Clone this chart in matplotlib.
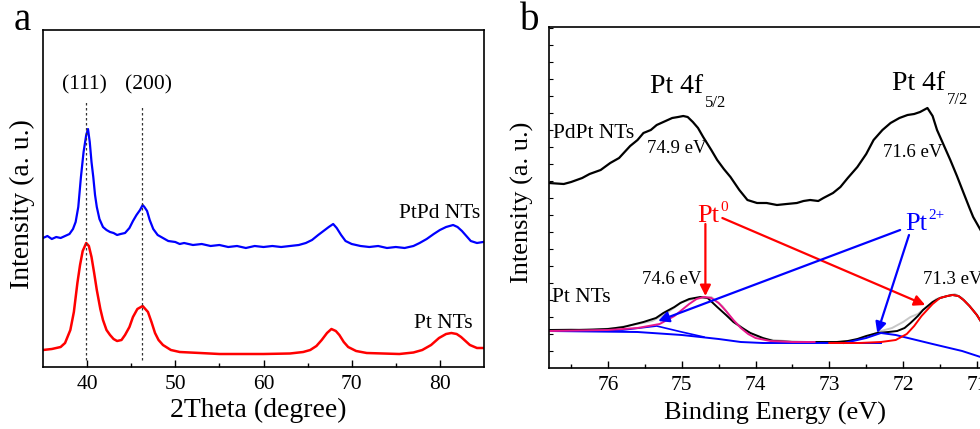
import numpy as np
import matplotlib
matplotlib.use('Agg')
import matplotlib.pyplot as plt

plt.rcParams['font.family'] = ['Liberation Serif', 'DejaVu Serif']

# ---- panel a: XRD ----
tt_ptpd = [35, 35.5, 36, 36.5, 37, 37.5, 38, 38.4, 38.7, 39.0, 39.3, 39.6, 39.9, 40.1, 40.3,
           40.5, 40.7, 40.9, 41.1, 41.4, 41.8, 42.2, 42.6, 43.0, 43.4, 43.8, 44.3, 44.8, 45.2,
           45.6, 46.0, 46.3, 46.5, 46.8, 47.1, 47.5, 48.0, 48.6, 49.2, 50, 50.5, 51, 52, 53, 54,
           55, 56, 57, 58, 59, 60, 61, 62, 63, 64, 64.8, 65.5, 66.2, 66.8, 67.4, 67.9, 68.3,
           68.8, 69.3, 70, 71, 72, 73, 74, 75, 76, 77, 77.7, 78.5, 79.3, 80.0, 80.7, 81.5, 82.0,
           82.5, 83.0, 83.5, 84.2, 84.9]
int_ptpd = [129, 131, 128, 130, 129, 131, 133, 138, 145, 160, 190, 215, 232, 238, 225,
            205, 190, 172, 160, 148, 140, 137, 135, 134, 132, 133, 134, 139, 146,
            152, 157, 162, 160, 156, 147, 138, 132, 129, 126, 125, 123, 124, 122, 123, 121,
            122, 120, 121, 119, 121, 120, 121, 120, 121, 122, 124, 127, 132, 136, 140, 143, 139,
            132, 126, 123, 121, 120, 121, 119, 120, 119, 121, 124, 128, 133, 137, 140, 142, 140,
            136, 131, 126, 124, 125]

tt_pt = [35, 36, 37, 37.5, 38.1, 38.5, 38.9, 39.2, 39.5, 39.9, 40.2, 40.5, 40.8, 41.1, 41.5,
         41.8, 42.2, 42.6, 43.0, 43.4, 43.9, 44.3, 44.8, 45.2, 45.7, 46.3, 46.9, 47.3, 47.7,
         48.1, 48.6, 49.5, 50.5, 52.8, 55, 60, 63, 64.5, 65.3, 66.0, 66.6, 67.2, 67.7, 68.2,
         68.6, 69.1, 69.6, 70.5, 71.7, 75.4, 77.0, 78.0, 79.0, 79.9, 80.7, 81.3, 81.9, 82.4,
         82.9, 83.4, 84.2, 84.9]
int_pt = [17, 18, 20, 24, 37, 55, 84, 102, 116, 124, 121, 110, 94, 77, 58,
          47, 37, 32, 28, 26, 27, 32, 40, 50, 58, 61, 55, 45, 34,
          27, 22, 17, 15, 14, 13, 13, 13.5, 15, 17, 21, 27, 34, 38, 36,
          32, 25, 20, 16, 14, 13, 14.5, 17, 22, 29, 33, 34, 33, 30,
          26, 22, 19, 19]

xrd_lines = [39.84, 46.25]
xrd_line_top = [265, 260]
xrd_hkl = ['(111)', '(200)']
xrd_hkl_x = [39.65, 47.0]

# ---- panel b: XPS ----
be_pdpt = [76.8, 76.6, 76.5, 76.35, 76.25, 76.1, 75.97, 75.85, 75.7, 75.6, 75.52, 75.42, 75.34,
           75.25, 75.13, 75.05, 74.98, 74.92, 74.85, 74.78, 74.71, 74.6, 74.52, 74.43, 74.34,
           74.22, 74.11, 73.98, 73.85, 73.71, 73.58, 73.44, 73.35, 73.26, 73.15, 73.08, 72.95,
           72.85, 72.75, 72.62, 72.5, 72.4, 72.28, 72.17, 72.05, 71.94, 71.85, 71.77, 71.67,
           71.6, 71.54, 71.45, 71.36, 71.27, 71.18, 71.1, 71.05, 70.95, 70.85, 70.7]
int_pdpt = [185, 184, 186, 190, 194, 198, 205, 210, 222, 228, 235, 238, 243,
            246, 250, 251, 252, 251, 246, 240, 231, 218, 208, 199, 191,
            178, 168, 165, 165, 163, 164, 165, 167, 168, 167, 170, 175,
            181, 190, 201, 214, 228, 238, 245, 250, 253, 254, 256, 260,
            252, 238, 223, 208, 192, 175, 160, 151, 138, 125, 108]

be_raw = [76.8, 76.5, 76.2, 75.9, 75.6, 75.4, 75.2, 75.0, 74.8, 74.6, 74.45, 74.3, 74.1, 73.9,
          73.6, 73.3, 73.0, 72.7, 72.5, 72.3, 72.15, 72.0, 71.9, 71.8, 71.7, 71.55, 71.4, 71.3,
          71.2, 71.05, 70.95, 70.8, 70.7]
int_raw = [38, 39, 38, 40, 44, 47, 55, 66, 70, 71, 62, 47, 36, 29,
           27, 26, 25, 27, 31, 37, 40, 46, 51, 54, 60, 69, 72, 74,
           70, 58, 48, 38, 32]

be_env = [76.8, 76.4, 76.0, 75.79, 75.52, 75.35, 75.25, 75.1, 75.02, 74.9, 74.75, 74.65, 74.52,
          74.4, 74.3, 74.18, 74.07, 73.9, 73.76, 73.5, 73.2, 72.9, 72.75, 72.62, 72.5, 72.35,
          72.2, 72.08, 71.98, 71.9, 71.8, 71.73, 71.6, 71.5, 71.4, 71.33, 71.25, 71.18, 71.1,
          71.0, 70.95, 70.8, 70.7]
int_env = [38, 38, 39, 41, 46, 50, 55, 61, 65, 69, 71, 70, 61,
           53, 46, 40, 35, 30, 27, 26, 26, 26, 27, 29, 32, 35,
           36, 37, 40, 45, 52, 58, 66, 70, 72, 73, 72, 68, 62,
           53, 47, 36, 30]

be_pt0_52 = [76.8, 76.0, 75.6, 75.3, 75.1, 75.0, 74.9, 74.8, 74.7, 74.6, 74.5, 74.4, 74.3, 74.2,
             74.1, 74.0, 73.8, 73.5, 73.2]
int_pt0_52 = [37, 38, 40, 44, 52, 58, 64, 69, 71, 70, 65, 57, 48, 40,
              34, 30, 27, 26, 26]

be_pt0_72 = [73.0, 72.6, 72.3, 72.1, 71.95, 71.85, 71.75, 71.6, 71.5, 71.4, 71.33, 71.25, 71.18,
             71.1, 71.0, 70.95, 70.8, 70.7]
int_pt0_72 = [25, 25, 26, 28, 34, 42, 52, 64, 70, 72, 73, 72, 68,
              62, 53, 47, 36, 30]

be_bg = [76.8, 75.6, 75.0, 74.5, 74.2, 73.9, 72.6, 72.3]
int_bg = [37, 36, 33, 29, 26, 25, 25, 25]

be_pt2_52 = [76.4, 75.8, 75.34, 75.0, 74.7]
int_pt2_52 = [37, 38, 42, 36, 31]

be_pt2_72 = [72.8, 72.5, 72.3, 72.1, 71.6, 71.2, 70.95, 70.7]
int_pt2_72 = [25, 30, 35, 33, 24, 17, 11, 7]

BLUE = '#0000ff'
RED = '#ff0000'
PINK = '#e8188c'

fig = plt.figure(figsize=(9.8, 4.29), dpi=100)

# panel a
ax1 = fig.add_axes([43 / 980, 62 / 429, 441 / 980, 337 / 429])
ax1.plot(tt_ptpd, int_ptpd, color=BLUE, lw=1.6)
ax1.plot(tt_pt, int_pt, color=RED, lw=1.8)
for x, top, lab, lx in zip(xrd_lines, xrd_line_top, xrd_hkl, xrd_hkl_x):
    ax1.plot([x, x], [7, top], color='#333333', lw=0.9, ls=(0, (2, 2)))
    ax1.text(lx, 282, lab, ha='center', va='center', fontsize=15.5)
ax1.text(84.63, 154, 'PtPd NTs', ha='right', va='center', fontsize=15.5)
ax1.text(83.72, 44, 'Pt NTs', ha='right', va='center', fontsize=15.5)
ax1.set_xlim(35, 85)
ax1.set_ylim(0, 337)
ax1.set_xticks([40, 50, 60, 70, 80])
ax1.set_xticks([45, 55, 65, 75], minor=True)
ax1.set_yticks([])
ax1.tick_params(axis='x', which='major', direction='in', length=5, width=1, labelsize=15.5, pad=6)
ax1.tick_params(axis='x', which='minor', direction='in', length=3, width=1)
for s in ax1.spines.values():
    s.set_linewidth(1.2)

# panel b
ax2 = fig.add_axes([549 / 980, 61 / 429, 450 / 980, 341 / 429])
ax2.plot(be_pdpt, int_pdpt, color='black', lw=1.6)
ax2.plot(be_raw, int_raw, color='#c8c8c8', lw=1.4)
ax2.plot(be_env, int_env, color='black', lw=1.4)
ax2.plot(be_bg, int_bg, color=BLUE, lw=1.4)
ax2.plot(be_pt2_52, int_pt2_52, color=BLUE, lw=1.2)
ax2.plot(be_pt2_72, int_pt2_72, color=BLUE, lw=1.4)
ax2.plot(be_pt0_52, int_pt0_52, color=PINK, lw=1.4)
ax2.plot(be_pt0_72, int_pt0_72, color=RED, lw=1.4)


def label_with_script(ax, x, y, main, script, size, script_size, color, sub):
    t = ax.text(x, y, main, ha='left', va='baseline', fontsize=size, color=color)
    if sub:
        ax.annotate(script, xy=(1, 0), xycoords=t, xytext=(1, 3), textcoords='offset points',
                    ha='left', va='top', fontsize=script_size, color=color)
    else:
        ax.annotate(script, xy=(1, 1), xycoords=t, xytext=(0.5, -4), textcoords='offset points',
                    ha='left', va='baseline', fontsize=script_size, color=color)


label_with_script(ax2, 75.43, 275, 'Pt 4f', '5/2', 20, 12, 'black', True)
label_with_script(ax2, 72.15, 278, 'Pt 4f', '7/2', 20, 12, 'black', True)
label_with_script(ax2, 74.79, 146, 'Pt', '0', 19, 11, RED, False)
label_with_script(ax2, 71.97, 138, 'Pt', '2+', 19, 11, BLUE, False)

ax2.text(76.75, 235, 'PdPt NTs', ha='left', va='center', fontsize=15.5)
ax2.text(75.47, 220, '74.9 eV', ha='left', va='center', fontsize=13.5)
ax2.text(72.27, 216, '71.6 eV', ha='left', va='center', fontsize=13.5)
ax2.text(75.54, 88, '74.6 eV', ha='left', va='center', fontsize=13.5)
ax2.text(71.73, 88, '71.3 eV', ha='left', va='center', fontsize=13.5)
ax2.text(76.76, 70, 'Pt NTs', ha='left', va='center', fontsize=15.5)

arrows = [((74.68, 72), (74.68, 144), RED),
          ((71.70, 63), (74.45, 150), RED),
          ((75.32, 47), (72.04, 138), BLUE),
          ((72.35, 35), (71.92, 133), BLUE)]
for end, start, c in arrows:
    ax2.annotate('', xy=end, xytext=start,
                 arrowprops=dict(arrowstyle='-|>', color=c, lw=1.6, mutation_scale=16,
                                 shrinkA=0, shrinkB=0))

ax2.set_xlim(76.8, 70.7)
ax2.set_ylim(0, 341)
ax2.set_xticks([76, 75, 74, 73, 72, 71])
ax2.set_xticks([76.5, 75.5, 74.5, 73.5, 72.5, 71.5], minor=True)
ax2.set_yticks(np.arange(17, 341, 17))
ax2.set_yticklabels([])
ax2.tick_params(axis='x', which='major', direction='in', length=5, width=1, labelsize=15.5, pad=6)
ax2.tick_params(axis='x', which='minor', direction='in', length=3, width=1)
ax2.tick_params(axis='y', direction='in', length=3, width=0.8)
ax2.spines['right'].set_visible(False)
for s in ax2.spines.values():
    s.set_linewidth(1.2)

# axis titles and panel letters
fig.text(258 / 980, 1 - 410 / 429, '2Theta (degree)', ha='center', va='center', fontsize=20)
fig.text(22 / 980, 1 - 204 / 429, 'Intensity (a. u.)', ha='center', va='center',
         rotation=90, fontsize=20)
fig.text(775 / 980, 1 - 413 / 429, 'Binding Energy (eV)', ha='center', va='center', fontsize=19)
fig.text(522 / 980, 1 - 202 / 429, 'Intensity (a. u.)', ha='center', va='center',
         rotation=90, fontsize=19)
fig.text(22 / 980, 1 - 20 / 429, 'a', ha='center', va='center', fontsize=28)
fig.text(530 / 980, 1 - 20 / 429, 'b', ha='center', va='center', fontsize=28)

fig.savefig('out.png', dpi=100)
